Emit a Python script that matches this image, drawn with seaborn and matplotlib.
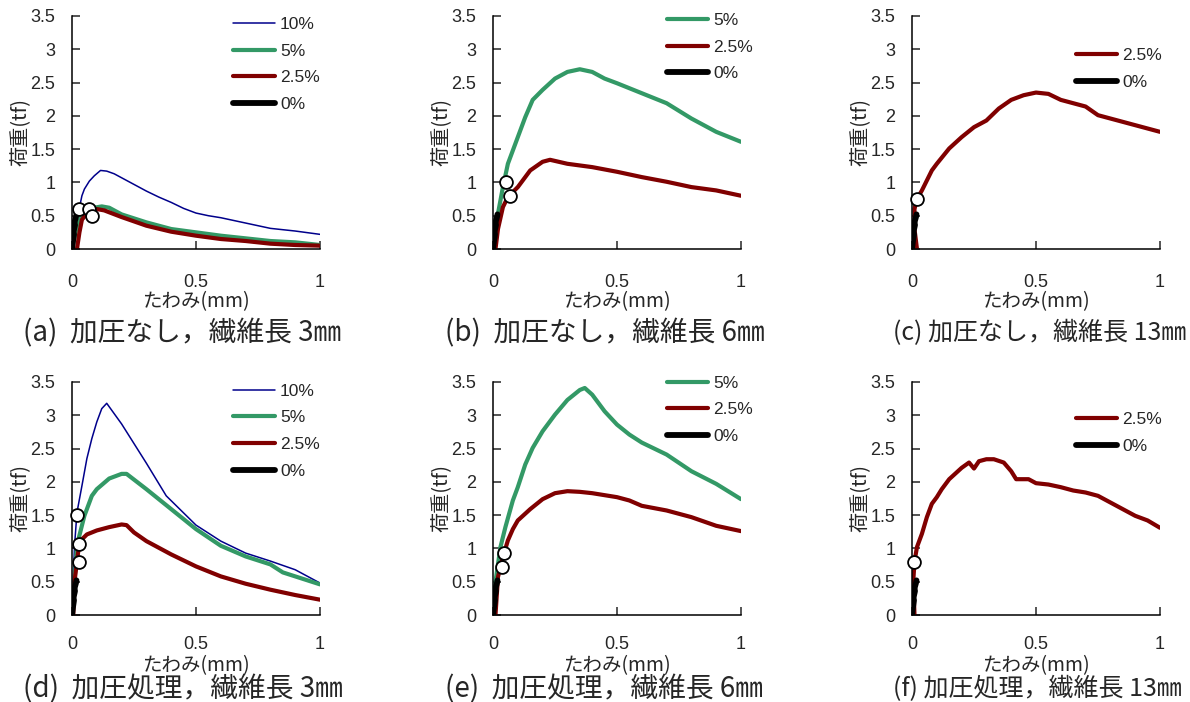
import numpy as np
import pandas as pd
import matplotlib
matplotlib.use("Agg")
import matplotlib.pyplot as plt
import seaborn as sns

# ---- data (deflection mm, load tf) ----
# (a) no pressing, fiber 3mm
A10_X = [0, 0.01, 0.02, 0.03, 0.04, 0.05, 0.07, 0.09, 0.115, 0.14, 0.17, 0.2, 0.25, 0.3, 0.35, 0.4, 0.45, 0.5, 0.55, 0.6, 0.7, 0.8, 0.9, 1.0]
A10_Y = [0, 0.3, 0.5, 0.62, 0.8, 0.9, 1.02, 1.1, 1.18, 1.17, 1.13, 1.07, 0.97, 0.87, 0.78, 0.7, 0.61, 0.54, 0.5, 0.47, 0.39, 0.31, 0.27, 0.22]
A5_X = [0, 0.02, 0.04, 0.06, 0.09, 0.12, 0.15, 0.2, 0.3, 0.4, 0.5, 0.6, 0.7, 0.8, 0.9, 1.0]
A5_Y = [0, 0.35, 0.5, 0.58, 0.62, 0.64, 0.62, 0.52, 0.4, 0.3, 0.25, 0.2, 0.16, 0.12, 0.1, 0.06]
A25_X = [0.02, 0.03, 0.04, 0.07, 0.1, 0.13, 0.2, 0.3, 0.4, 0.5, 0.6, 0.7, 0.8, 0.9, 1.0]
A25_Y = [0, 0.25, 0.44, 0.58, 0.6, 0.58, 0.48, 0.35, 0.26, 0.2, 0.15, 0.12, 0.08, 0.06, 0.05]
A_CIRC_X = [0.03, 0.07, 0.08]
A_CIRC_Y = [0.6, 0.6, 0.5]

# (b) no pressing, fiber 6mm
B5_X = [0, 0.02, 0.04, 0.06, 0.08, 0.1, 0.13, 0.16, 0.2, 0.25, 0.3, 0.35, 0.4, 0.45, 0.5, 0.6, 0.7, 0.8, 0.9, 1.0]
B5_Y = [0, 0.53, 0.93, 1.28, 1.48, 1.68, 1.98, 2.24, 2.39, 2.56, 2.66, 2.7, 2.66, 2.56, 2.49, 2.34, 2.19, 1.96, 1.76, 1.61]
B25_X = [0.01, 0.02, 0.04, 0.06, 0.1, 0.15, 0.2, 0.23, 0.3, 0.4, 0.5, 0.6, 0.7, 0.8, 0.9, 1.0]
B25_Y = [0, 0.3, 0.63, 0.78, 0.93, 1.18, 1.31, 1.34, 1.28, 1.23, 1.16, 1.08, 1.01, 0.93, 0.88, 0.8]
B_CIRC_X = [0.054, 0.067]
B_CIRC_Y = [1.0, 0.79]

# (c) no pressing, fiber 13mm
C25_X = [0.02, 0.01, 0.01, 0.02, 0.04, 0.06, 0.08, 0.1, 0.15, 0.2, 0.25, 0.3, 0.35, 0.4, 0.45, 0.5, 0.55, 0.6, 0.7, 0.75, 0.8, 0.9, 1.0]
C25_Y = [0, 0.3, 0.6, 0.75, 0.88, 1.03, 1.18, 1.28, 1.51, 1.68, 1.83, 1.93, 2.11, 2.24, 2.31, 2.35, 2.33, 2.24, 2.14, 2.01, 1.96, 1.86, 1.76]
C_CIRC_X = [0.02]
C_CIRC_Y = [0.75]

# (d) pressed, fiber 3mm
D10_X = [0, 0.01, 0.02, 0.04, 0.06, 0.08, 0.1, 0.12, 0.14, 0.2, 0.3, 0.38, 0.5, 0.6, 0.7, 0.8, 0.9, 1.0]
D10_Y = [0, 1.03, 1.54, 1.94, 2.35, 2.65, 2.9, 3.1, 3.18, 2.87, 2.28, 1.79, 1.35, 1.11, 0.93, 0.81, 0.68, 0.48]
D5_X = [0, 0.01, 0.02, 0.05, 0.08, 0.1, 0.15, 0.2, 0.22, 0.3, 0.4, 0.5, 0.6, 0.7, 0.8, 0.85, 0.9, 1.0]
D5_Y = [0, 0.5, 1.05, 1.49, 1.79, 1.89, 2.05, 2.12, 2.12, 1.89, 1.59, 1.29, 1.04, 0.88, 0.76, 0.64, 0.58, 0.46]
D25_X = [0.005, 0.01, 0.02, 0.03, 0.06, 0.1, 0.15, 0.2, 0.22, 0.25, 0.3, 0.4, 0.5, 0.6, 0.7, 0.8, 0.9, 1.0]
D25_Y = [0, 0.5, 0.8, 1.1, 1.21, 1.27, 1.32, 1.36, 1.35, 1.24, 1.11, 0.91, 0.73, 0.58, 0.47, 0.38, 0.3, 0.23]
D_CIRC_X = [0.02, 0.028, 0.028]
D_CIRC_Y = [1.5, 1.07, 0.8]

# (e) pressed, fiber 6mm
E5_X = [0, 0.01, 0.03, 0.05, 0.08, 0.1, 0.13, 0.16, 0.2, 0.25, 0.3, 0.35, 0.37, 0.4, 0.45, 0.5, 0.55, 0.6, 0.7, 0.8, 0.9, 1.0]
E5_Y = [0, 0.5, 1.02, 1.32, 1.72, 1.92, 2.26, 2.51, 2.76, 3.01, 3.23, 3.38, 3.41, 3.31, 3.06, 2.86, 2.71, 2.59, 2.41, 2.16, 1.97, 1.74]
E25_X = [0.01, 0.02, 0.04, 0.06, 0.08, 0.1, 0.15, 0.2, 0.25, 0.3, 0.35, 0.4, 0.5, 0.55, 0.6, 0.7, 0.8, 0.9, 1.0]
E25_Y = [0, 0.57, 0.87, 1.12, 1.29, 1.42, 1.59, 1.74, 1.83, 1.86, 1.85, 1.83, 1.77, 1.72, 1.64, 1.57, 1.47, 1.34, 1.26]
E_CIRC_X = [0.045, 0.038]
E_CIRC_Y = [0.93, 0.72]

# (f) pressed, fiber 13mm
F25_X = [0.01, 0.005, 0.01, 0.02, 0.04, 0.06, 0.08, 0.1, 0.12, 0.15, 0.2, 0.23, 0.25, 0.27, 0.3, 0.33, 0.37, 0.4, 0.42, 0.47, 0.5, 0.55, 0.6, 0.65, 0.7, 0.75, 0.8, 0.85, 0.9, 0.95, 1.0]
F25_Y = [0, 0.5, 0.8, 1.02, 1.22, 1.47, 1.67, 1.77, 1.89, 2.04, 2.21, 2.29, 2.2, 2.31, 2.34, 2.34, 2.29, 2.16, 2.04, 2.04, 1.98, 1.96, 1.92, 1.87, 1.84, 1.79, 1.69, 1.59, 1.49, 1.42, 1.31]
F_CIRC_X = [0.008]
F_CIRC_Y = [0.8]

# 0% (plain matrix) curve, same short rise in every panel
ZERO_X = [0, 0.004, 0.008, 0.006, 0.012, 0.01, 0.016, 0.018]
ZERO_Y = [0, 0.12, 0.22, 0.26, 0.36, 0.4, 0.48, 0.52]

CAPTIONS = ["(a)  加圧なし，繊維長 3㎜", "(b)  加圧なし，繊維長 6㎜", "(c) 加圧なし，繊維長 13㎜",
            "(d)  加圧処理，繊維長 3㎜", "(e)  加圧処理，繊維長 6㎜", "(f) 加圧処理，繊維長 13㎜"]

# series style: label -> (colour, linewidth)
STYLE = {"10%": ("#00008B", 1.1), "5%": ("#339966", 3.0), "2.5%": ("#800000", 3.0), "0%": ("#000000", 4.2)}

panels = [
    {"series": [("10%", A10_X, A10_Y), ("5%", A5_X, A5_Y), ("2.5%", A25_X, A25_Y)], "circ": (A_CIRC_X, A_CIRC_Y)},
    {"series": [("5%", B5_X, B5_Y), ("2.5%", B25_X, B25_Y)], "circ": (B_CIRC_X, B_CIRC_Y)},
    {"series": [("2.5%", C25_X, C25_Y)], "circ": (C_CIRC_X, C_CIRC_Y)},
    {"series": [("10%", D10_X, D10_Y), ("5%", D5_X, D5_Y), ("2.5%", D25_X, D25_Y)], "circ": (D_CIRC_X, D_CIRC_Y)},
    {"series": [("5%", E5_X, E5_Y), ("2.5%", E25_X, E25_Y)], "circ": (E_CIRC_X, E_CIRC_Y)},
    {"series": [("2.5%", F25_X, F25_Y)], "circ": (F_CIRC_X, F_CIRC_Y)},
]

sns.set_style("ticks")
plt.rcParams["font.family"] = ["Liberation Sans", "DejaVu Sans"]
JP = ["Noto Sans CJK JP", "DejaVu Sans"]

W, H = 1190, 702
fig = plt.figure(figsize=(W / 100, H / 100), dpi=100)

lefts = [72, 493, 912]
zero_rows = [249, 615]
ax_w, ax_h = 248, 233
cap_left = [23, 445, 893]
cap_size = [20, 20, 18]
cap_y = [333, 689]
legend_x = [0.65, 0.70, 0.66]
legend_y = [[0.996, 1.013, 0.863], [0.993, 1.027, 0.87]]
xpad = [18, 15]
xlab_y = [-0.18, -0.172]

for i, p in enumerate(panels):
    r, c = divmod(i, 3)
    ax = fig.add_axes([lefts[c] / W, 1 - zero_rows[r] / H, ax_w / W, ax_h / H])

    for lab, xs, ys in p["series"]:
        col, lw = STYLE[lab]
        sns.lineplot(x=xs, y=ys, ax=ax, color=col, lw=lw, sort=False, estimator=None, label=lab)
    sns.lineplot(x=ZERO_X, y=ZERO_Y, ax=ax, color=STYLE["0%"][0], lw=STYLE["0%"][1],
                 sort=False, estimator=None, label="0%")
    cx, cy = p["circ"]
    sns.scatterplot(x=cx, y=cy, ax=ax, s=85, color="white", edgecolor="black",
                    linewidth=1.3, zorder=10, clip_on=False)

    ax.set_xlim(0, 1)
    ax.set_ylim(0, 3.5)
    ax.set_xticks([0, 0.5, 1])
    ax.set_xticklabels(["0", "0.5", "1"])
    ax.set_yticks(np.arange(0, 3.51, 0.5))
    ax.set_yticklabels(["0", "0.5", "1", "1.5", "2", "2.5", "3", "3.5"])
    ax.tick_params(axis="x", direction="in", length=6, width=1.1, pad=xpad[r], labelsize=13)
    ax.tick_params(axis="y", direction="in", length=6, width=1.1, pad=12, labelsize=13)
    sns.despine(ax=ax)
    for s in ["left", "bottom"]:
        ax.spines[s].set_linewidth(1.1)
        ax.spines[s].set_color("black")

    ax.set_xlabel("たわみ(mm)", family=JP, fontsize=14)
    ax.set_ylabel("荷重(tf)", family=JP, fontsize=14.5)
    ax.xaxis.set_label_coords(0.5, xlab_y[r])
    ax.yaxis.set_label_coords(-0.165, 0.5)

    ax.legend(loc="upper left", bbox_to_anchor=(legend_x[c], legend_y[r][c]), frameon=False,
              fontsize=12.5, handlelength=2.4, handletextpad=0.3, labelspacing=0.66,
              borderpad=0, borderaxespad=0)

    fig.text(cap_left[c] / W, 1 - cap_y[r] / H, CAPTIONS[i], family=JP, fontsize=cap_size[c],
             ha="left", va="center")

fig.savefig("out.png", dpi=100)
